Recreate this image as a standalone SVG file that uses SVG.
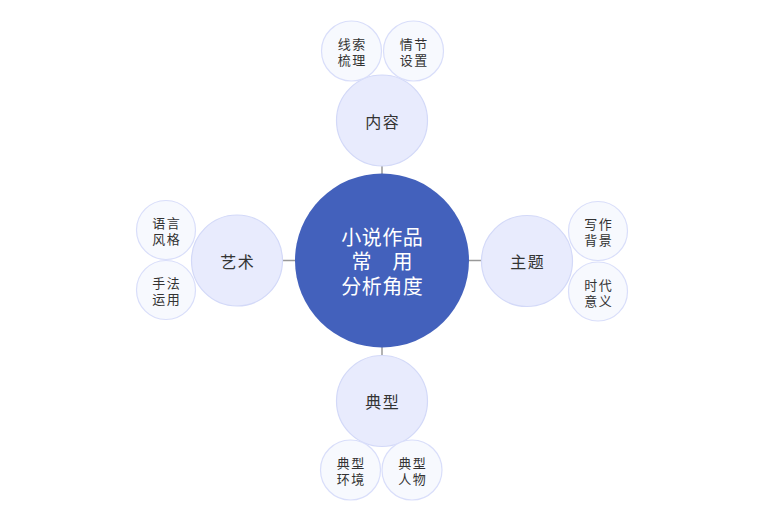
<svg xmlns="http://www.w3.org/2000/svg" width="760" height="516" viewBox="0 0 760 516">
<style>
text{font-family:"Noto Sans CJK SC","Liberation Sans",sans-serif;text-anchor:middle;dominant-baseline:central}
.root circle{fill:#4361BC;stroke:none}
.root text{fill:#ffffff;font-size:20px;letter-spacing:0.5px}
.mid circle{fill:#E8EBFD;stroke:#D3D9F8;stroke-width:1.2}
.mid text{fill:#333333;font-size:16px;letter-spacing:1.5px}
.leaf circle{fill:#F7F9FE;stroke:#D9DEFA;stroke-width:1.2}
.leaf text{fill:#333333;font-size:13px;letter-spacing:1.5px}
.conn line{stroke:#999999;stroke-width:1.5}
</style>
<rect width="760" height="516" fill="#ffffff"/>
<g class="conn" id="connectors">
<line x1="382" y1="165" x2="382" y2="176"/>
<line x1="382" y1="345" x2="382" y2="356"/>
<line x1="283" y1="260.5" x2="295" y2="260.5"/>
<line x1="469" y1="260.5" x2="481" y2="260.5"/>
</g>
<g id="root" class="root">
<circle cx="382" cy="260.5" r="87"/>
<text x="382.3" y="235.5"><tspan x="382.3">小说作品</tspan><tspan x="382.3" dy="24.5">常　用</tspan><tspan x="382.3" dy="24.5">分析角度</tspan></text>
</g>
<g id="n-neirong" class="mid"><circle cx="382" cy="120.5" r="45.5"/><text x="382.8" y="121">内容</text></g>
<g id="n-yishu" class="mid"><circle cx="237" cy="260.5" r="45.5"/><text x="237.8" y="261">艺术</text></g>
<g id="n-zhuti" class="mid"><circle cx="527" cy="261" r="45.5"/><text x="527.8" y="261">主题</text></g>
<g id="n-dianxing" class="mid"><circle cx="382" cy="401" r="45.5"/><text x="382.8" y="401">典型</text></g>
<g id="l-xiansuo" class="leaf"><circle cx="351.5" cy="51" r="30"/><text y="43"><tspan x="352.2">线索</tspan><tspan x="352.2" dy="16">梳理</tspan></text></g>
<g id="l-qingjie" class="leaf"><circle cx="413.5" cy="51" r="30"/><text y="43"><tspan x="414.2">情节</tspan><tspan x="414.2" dy="16">设置</tspan></text></g>
<g id="l-yuyan" class="leaf"><circle cx="166" cy="230" r="29.5"/><text y="222"><tspan x="166.7">语言</tspan><tspan x="166.7" dy="16">风格</tspan></text></g>
<g id="l-shoufa" class="leaf"><circle cx="166" cy="290" r="29.5"/><text y="282"><tspan x="166.7">手法</tspan><tspan x="166.7" dy="16">运用</tspan></text></g>
<g id="l-xiezuo" class="leaf"><circle cx="598" cy="231" r="29.5"/><text y="223"><tspan x="598.7">写作</tspan><tspan x="598.7" dy="16">背景</tspan></text></g>
<g id="l-shidai" class="leaf"><circle cx="598" cy="291.5" r="29.5"/><text y="283.5"><tspan x="598.7">时代</tspan><tspan x="598.7" dy="16">意义</tspan></text></g>
<g id="l-huanjing" class="leaf"><circle cx="350.5" cy="470" r="30"/><text y="462"><tspan x="351.2">典型</tspan><tspan x="351.2" dy="16">环境</tspan></text></g>
<g id="l-renwu" class="leaf"><circle cx="412" cy="470" r="30"/><text y="462"><tspan x="412.7">典型</tspan><tspan x="412.7" dy="16">人物</tspan></text></g>
</svg>
